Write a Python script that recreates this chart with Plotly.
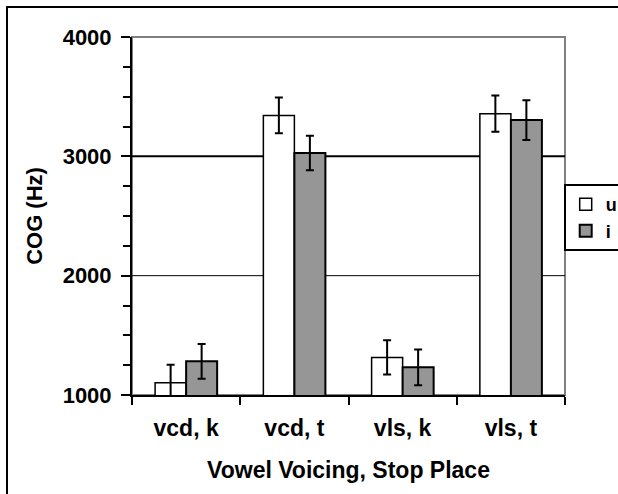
import plotly.graph_objects as go

categories = ["vcd, k", "vcd, t", "vls, k", "vls, t"]
u_vals = [1103, 3343, 1315, 3357]
u_err = [150, 150, 143, 152]
i_vals = [1282, 3028, 1232, 3304]
i_err = [145, 145, 150, 167]
y_ticks = [1000, 2000, 3000, 4000]

FONT = "Liberation Sans, Arial, Helvetica, sans-serif"

fig = go.Figure()
fig.add_trace(go.Bar(
    x=categories, y=u_vals, name="u",
    marker=dict(color="white", line=dict(color="black", width=1.5)),
    error_y=dict(type="data", array=u_err, color="black", thickness=2, width=4),
))
fig.add_trace(go.Bar(
    x=categories, y=i_vals, name="i",
    marker=dict(color="#969696", line=dict(color="black", width=2)),
    error_y=dict(type="data", array=i_err, color="black", thickness=2, width=4),
))

# plot-area frame (gray top/right)
fig.add_shape(type="rect", xref="paper", yref="paper", x0=0, x1=1, y0=0, y1=1,
              line=dict(color="#808080", width=2), layer="below")
# gridlines
for v in y_ticks[1:3]:
    fig.add_shape(type="line", xref="paper", yref="y", x0=0, x1=1, y0=v, y1=v,
                  line=dict(color="black", width=2 if v == 3000 else 1), layer="below")
# outer chart frame
fig.add_shape(type="rect", xref="paper", yref="paper", x0=-0.2887, x1=2, y0=-1, y1=1.0838,
              line=dict(color="black", width=2), layer="below")

fig.update_layout(
    width=618, height=494,
    margin=dict(l=132, r=53, t=37, b=99, autoexpand=False),
    paper_bgcolor="white", plot_bgcolor="white",
    font=dict(family=FONT, size=20, color="black", weight="bold"),
    barmode="group", bargap=0.427, bargroupgap=0,
    showlegend=True,
    legend=dict(x=0.997, xanchor="left", y=0.589, yanchor="top",
                bordercolor="black", borderwidth=2, bgcolor="white",
                font=dict(family=FONT, size=18, weight="bold"),
                tracegroupgap=0, itemwidth=30),
    xaxis=dict(
        type="category", showline=True, linecolor="black", linewidth=2,
        ticks="outside", ticklen=8, tickwidth=2, tickcolor="black",
        tickson="boundaries", showgrid=False,
        tickfont=dict(family=FONT, size=23, weight="bold"),
        ticklabelstandoff=11,
        title=dict(text="Vowel Voicing, Stop Place", standoff=22,
                   font=dict(family=FONT, size=23, weight="bold")),
    ),
    yaxis=dict(
        range=[1000, 4000], tickvals=y_ticks, showline=True, linecolor="black", linewidth=2,
        ticks="outside", ticklen=9, tickwidth=2, tickcolor="black",
        minor=dict(dtick=250, ticks="outside", ticklen=7, tickwidth=2, tickcolor="black", showgrid=False),
        showgrid=False, zeroline=False,
        tickfont=dict(family=FONT, size=22, weight="bold"),
        ticklabelstandoff=5,
        title=dict(text="COG (Hz)", standoff=14,
                   font=dict(family=FONT, size=22, weight="bold")),
    ),
)

fig.write_html("out.html")
